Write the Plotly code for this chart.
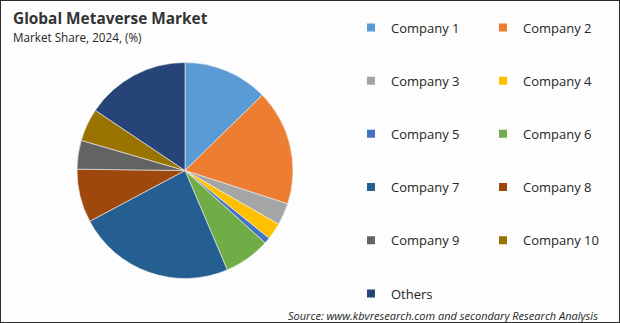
import plotly.graph_objects as go

labels = ["Company 1", "Company 2", "Company 3", "Company 4", "Company 5",
          "Company 6", "Company 7", "Company 8", "Company 9", "Company 10", "Others"]
shares = [12.7, 17.3, 3.3, 2.5, 0.9, 6.9, 23.6, 8.0, 4.3, 4.9, 15.6]
colors = ["#5B9BD5", "#ED7D31", "#A5A5A5", "#FFC000", "#4472C4", "#70AD47",
          "#255E91", "#9E480E", "#636363", "#997300", "#264478"]

title_text = "<b>Global Metaverse Market</b>"
subtitle_text = "Market Share, 2024, (%)"
source_text = "Source: www.kbvresearch.com and secondary Research Analysis"

W, H = 620, 323
FONT = "Open Sans"

fig = go.Figure()

cx, cy, r = 185, 170.5, 108
fig.add_trace(go.Pie(
    labels=labels, values=shares, sort=False, direction="clockwise", rotation=0,
    marker=dict(colors=colors, line=dict(color="#f2f2f2", width=0.6)),
    textinfo="none", hoverinfo="skip", showlegend=False,
    domain=dict(x=[(cx - r) / W, (cx + r) / W], y=[(H - cy - r) / H, (H - cy + r) / H]),
))

# legend entries (two columns)
for i, (lab, col) in enumerate(zip(labels, colors)):
    fig.add_trace(go.Scatter(
        x=[None], y=[None], mode="markers", name=lab,
        marker=dict(symbol="square", size=8, color=col),
        legend="legend" if i % 2 == 0 else "legend2",
        legendgroup=lab, hoverinfo="skip",
    ))

leg_common = dict(
    orientation="v", traceorder="grouped", tracegroupgap=33.3,
    font=dict(family=FONT, size=13, color="#262626"),
    bgcolor="rgba(0,0,0,0)", borderwidth=0,
    xanchor="left", yanchor="top", itemclick=False, itemdoubleclick=False,
)

fig.update_layout(
    width=W, height=H,
    margin=dict(l=0, r=0, t=0, b=0),
    paper_bgcolor="#fdfdfd", plot_bgcolor="#fdfdfd",
    xaxis=dict(visible=False), yaxis=dict(visible=False),
    legend=dict(x=351 / W, y=1 - 12.5 / H, **leg_common),
    legend2=dict(x=483 / W, y=1 - 12.5 / H, **leg_common),
    annotations=[
        dict(text=title_text, x=11 / W, y=1 - 6 / H, xref="paper", yref="paper",
             xanchor="left", yanchor="top", showarrow=False,
             font=dict(family=FONT, size=15.4, color="#333333")),
        dict(text=subtitle_text, x=11 / W, y=1 - 26.5 / H, xref="paper", yref="paper",
             xanchor="left", yanchor="top", showarrow=False,
             font=dict(family=FONT, size=11.7, color="#262626")),
        dict(text="<i>" + source_text + "</i>", x=600 / W, y=1 - 315 / H, xref="paper", yref="paper",
             xanchor="right", yanchor="middle", showarrow=False,
             font=dict(family=FONT, size=11, color="#262626")),
    ],
    shapes=[dict(type="rect", xref="paper", yref="paper", x0=0, y0=0, x1=1, y1=1,
                 line=dict(color="#2b2b2b", width=2), fillcolor="rgba(0,0,0,0)")],
)

fig.write_html("out.html")
